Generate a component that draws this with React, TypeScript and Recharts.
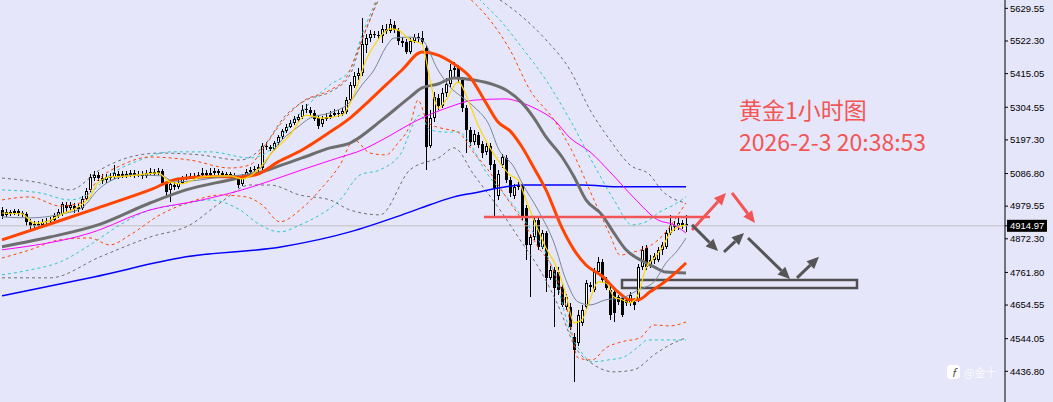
import {
  ComposedChart,
  Bar,
  Line,
  XAxis,
  YAxis,
  ReferenceLine,
  ReferenceArea,
} from "recharts";

// gold 1h candles (oldest first)
const openP = [
  4967, 4951, 4961, 4957, 4964, 4957, 4954, 4928, 4915, 4921,
  4918, 4928, 4931, 4934, 4947, 4954, 4984, 4974, 4980, 4970,
  4974, 5003, 5033, 5072, 5082, 5072, 5066, 5076, 5076, 5085,
  5079, 5085, 5082, 5089, 5082, 5085, 5079, 5089, 5092, 5089,
  5095, 5056, 5033, 5049, 5043, 5056, 5069, 5076, 5079, 5076,
  5082, 5089, 5082, 5089, 5095, 5089, 5082, 5085, 5079, 5076,
  5053, 5079, 5092, 5099, 5102, 5105, 5177, 5174, 5168, 5187,
  5207, 5227, 5240, 5253, 5263, 5273, 5296, 5296, 5286, 5269,
  5250, 5266, 5273, 5279, 5286, 5282, 5289, 5328, 5374, 5407,
  5417, 5509, 5532, 5545, 5542, 5539, 5562, 5555, 5575, 5558,
  5522, 5519, 5486, 5522, 5535, 5532, 5499, 5177, 5269, 5335,
  5309, 5352, 5381, 5427, 5434, 5394, 5302, 5230, 5191, 5214,
  5184, 5158, 5177, 5118, 5013, 5115, 5138, 5066, 5013, 5043,
  5049, 4974, 4852, 4878, 4934, 4846, 4891, 4744, 4770, 4763,
  4714, 4649, 4649, 4550, 4530, 4596, 4649, 4714, 4704, 4763,
  4796, 4737, 4704, 4698, 4681, 4678, 4672, 4662, 4665, 4672,
  4780, 4842, 4786, 4803, 4803, 4836, 4846, 4891, 4918, 4915,
  4924, 4921,
];
const highP = [
  4977, 4970, 4967, 4970, 4970, 4964, 4961, 4938, 4931, 4931,
  4938, 4941, 4944, 4957, 4970, 4993, 4993, 4993, 4990, 4987,
  5013, 5039, 5085, 5095, 5092, 5085, 5085, 5089, 5115, 5095,
  5095, 5095, 5099, 5099, 5095, 5095, 5099, 5105, 5102, 5105,
  5102, 5062, 5059, 5059, 5066, 5079, 5085, 5089, 5089, 5092,
  5105, 5099, 5105, 5105, 5102, 5095, 5092, 5092, 5089, 5082,
  5085, 5102, 5108, 5112, 5118, 5187, 5191, 5181, 5194, 5214,
  5233, 5250, 5263, 5276, 5282, 5312, 5315, 5306, 5296, 5279,
  5276, 5286, 5292, 5299, 5296, 5302, 5338, 5388, 5420, 5434,
  5598, 5545, 5558, 5555, 5555, 5575, 5578, 5595, 5588, 5565,
  5535, 5529, 5532, 5545, 5549, 5555, 5506, 5296, 5355, 5348,
  5368, 5401, 5447, 5453, 5443, 5404, 5312, 5240, 5230, 5223,
  5194, 5187, 5187, 5131, 5099, 5151, 5148, 5076, 5053, 5059,
  5056, 4984, 4888, 4944, 4941, 4901, 4898, 4783, 4780, 4780,
  4724, 4691, 4662, 4563, 4639, 4655, 4737, 4731, 4777, 4813,
  4806, 4747, 4721, 4711, 4688, 4688, 4681, 4698, 4678, 4790,
  4849, 4852, 4819, 4826, 4846, 4862, 4901, 4951, 4931, 4941,
  4934, 4951,
];
const lowP = [
  4938, 4944, 4947, 4951, 4947, 4944, 4915, 4898, 4901, 4905,
  4911, 4918, 4921, 4928, 4941, 4947, 4961, 4964, 4957, 4961,
  4967, 4997, 5026, 5062, 5062, 5053, 5056, 5062, 5069, 5069,
  5072, 5072, 5076, 5072, 5076, 5069, 5072, 5082, 5079, 5082,
  5049, 5013, 4993, 5033, 5036, 5053, 5066, 5069, 5069, 5069,
  5076, 5076, 5076, 5082, 5079, 5072, 5072, 5072, 5066, 5039,
  5046, 5072, 5082, 5089, 5092, 5099, 5164, 5161, 5161, 5181,
  5200, 5220, 5237, 5246, 5256, 5266, 5286, 5276, 5260, 5233,
  5240, 5260, 5266, 5273, 5273, 5276, 5282, 5322, 5368, 5394,
  5407, 5483, 5519, 5532, 5529, 5516, 5545, 5549, 5549, 5509,
  5503, 5480, 5480, 5516, 5519, 5509, 5099, 5171, 5256, 5296,
  5302, 5338, 5368, 5404, 5384, 5289, 5154, 5177, 5181, 5171,
  5138, 5148, 5099, 4944, 5000, 5105, 5056, 5010, 5003, 5033,
  4934, 4803, 4681, 4869, 4836, 4839, 4698, 4737, 4583, 4688,
  4649, 4639, 4573, 4402, 4520, 4586, 4642, 4698, 4698, 4754,
  4727, 4704, 4606, 4599, 4655, 4616, 4652, 4652, 4639, 4665,
  4770, 4770, 4777, 4790, 4796, 4819, 4839, 4885, 4898, 4901,
  4905, 4895,
];
const closeP = [
  4947, 4961, 4954, 4964, 4957, 4954, 4928, 4915, 4921, 4915,
  4928, 4931, 4934, 4947, 4961, 4987, 4974, 4984, 4970, 4977,
  5003, 5030, 5076, 5082, 5072, 5062, 5076, 5072, 5089, 5079,
  5085, 5079, 5089, 5082, 5085, 5079, 5089, 5092, 5085, 5095,
  5056, 5026, 5053, 5043, 5056, 5069, 5076, 5079, 5076, 5082,
  5089, 5082, 5089, 5095, 5089, 5082, 5085, 5079, 5076, 5049,
  5079, 5092, 5099, 5102, 5108, 5177, 5174, 5168, 5187, 5207,
  5227, 5240, 5253, 5266, 5273, 5296, 5299, 5286, 5266, 5243,
  5266, 5273, 5279, 5286, 5282, 5292, 5328, 5378, 5407, 5417,
  5512, 5532, 5545, 5542, 5539, 5562, 5555, 5578, 5558, 5522,
  5516, 5486, 5522, 5535, 5532, 5519, 5174, 5269, 5338, 5309,
  5352, 5381, 5427, 5434, 5397, 5302, 5230, 5191, 5217, 5181,
  5154, 5177, 5115, 5039, 5085, 5141, 5066, 5023, 5043, 5049,
  4944, 4852, 4878, 4934, 4846, 4891, 4744, 4770, 4711, 4704,
  4655, 4681, 4583, 4507, 4622, 4639, 4727, 4721, 4763, 4796,
  4737, 4711, 4622, 4629, 4665, 4622, 4662, 4688, 4655, 4780,
  4836, 4780, 4803, 4816, 4836, 4852, 4891, 4918, 4911, 4924,
  4915, 4914.97,
];

// moving averages: [bar index, price]
const maYellow = [
  [0, 4957], [5, 4954], [8, 4924], [11, 4928], [15, 4954], [19, 4977], [22, 5010],
  [24, 5056], [27, 5076], [32, 5079], [39, 5089], [42, 5059], [45, 5053], [50, 5076],
  [57, 5079], [60, 5069], [64, 5099], [67, 5148], [72, 5214], [76, 5279], [80, 5269],
  [85, 5279], [88, 5345], [91, 5460], [94, 5526], [97, 5562], [99, 5558], [102, 5526],
  [105, 5512], [107, 5394], [109, 5302], [111, 5328], [114, 5388], [117, 5312],
  [119, 5246], [122, 5171], [124, 5131], [127, 5082], [129, 5066], [131, 5000],
  [133, 4934], [136, 4842], [139, 4770], [141, 4688], [143, 4596], [145, 4606],
  [147, 4672], [149, 4731], [151, 4727], [153, 4681], [155, 4672], [157, 4662],
  [159, 4688], [161, 4777], [163, 4809], [165, 4842], [167, 4891], [169, 4911], [171, 4918],
];
const maSlate = [
  [0, 4944], [7, 4941], [15, 4954], [20, 4974], [24, 5033], [27, 5062], [33, 5082],
  [40, 5079], [43, 5059], [47, 5062], [55, 5076], [61, 5085], [65, 5108], [67, 5148],
  [70, 5197], [74, 5240], [77, 5269], [82, 5286], [87, 5322], [90, 5378], [93, 5427],
  [96, 5503], [98, 5532], [102, 5535], [105, 5526], [109, 5427], [112, 5371],
  [115, 5338], [118, 5306], [122, 5240], [124, 5171], [128, 5108], [130, 5056],
  [134, 4967], [138, 4859], [141, 4737], [144, 4665], [147, 4655], [151, 4672],
  [155, 4678], [159, 4704], [163, 4731], [166, 4793], [169, 4836], [171, 4875],
];
const maOrange = [
  [0, 4869], [12, 4921], [24, 4974], [37, 5033], [44, 5069], [52, 5076], [60, 5076],
  [64, 5085], [69, 5125], [75, 5164], [82, 5223], [87, 5269], [92, 5328], [96, 5378],
  [100, 5427], [105, 5486], [109, 5476], [113, 5447], [117, 5404], [121, 5319],
  [124, 5256], [127, 5227], [130, 5174], [133, 5105], [136, 5033], [140, 4908],
  [143, 4836], [146, 4786], [150, 4750], [154, 4698], [157, 4672], [159, 4672],
  [162, 4698], [166, 4734], [171, 4793],
];
const maGray = [
  [0, 4846], [12, 4878], [24, 4918], [37, 4990], [46, 5033], [58, 5069], [65, 5092],
  [70, 5115], [75, 5138], [82, 5171], [87, 5187], [95, 5263], [102, 5338], [105, 5368],
  [109, 5381], [113, 5401], [118, 5394], [123, 5378], [126, 5361], [130, 5319],
  [133, 5269], [136, 5207], [140, 5141], [143, 5076], [146, 5000], [150, 4951],
  [153, 4891], [156, 4836], [160, 4800], [163, 4780], [166, 4763], [171, 4760],
];
const maMagenta = [
  [0, 4836], [22, 4891], [37, 4967], [50, 5000], [60, 5033], [70, 5076], [75, 5099],
  [84, 5138], [90, 5164], [95, 5197], [104, 5263], [112, 5306], [118, 5328],
  [126, 5332], [130, 5319], [134, 5296], [138, 5263], [142, 5204], [147, 5158],
  [152, 5092], [158, 5007], [164, 4934], [168, 4918], [171, 4891],
];
const maBlue = [
  [0, 4685], [23, 4747], [46, 4813], [70, 4846], [87, 4895], [100, 4951], [107, 4984],
  [113, 5010], [118, 5023], [126, 5043], [130, 5049], [145, 5049], [155, 5043], [171, 5043],
];

// envelope / band lines (dashed)
const bandOrangeUp = [
  [0, 5000], [7, 5010], [14.5, 4980], [19.5, 4990], [24, 5066], [30, 5115], [37, 5141],
  [47, 5131], [57, 5105], [62, 5115], [65, 5164], [70, 5256], [75, 5322], [82, 5361],
  [86, 5401], [89, 5493], [92, 5591], [95, 5690], [102, 5739], [109.5, 5739], [116, 5673],
  [122, 5591], [127, 5493], [132, 5361], [138, 5263], [143, 5148], [148, 5000],
  [152, 4885], [154.5, 4819], [158, 4829], [162, 4849], [166, 4895], [169, 4951], [171, 4990],
];
const bandOrangeLo = [
  [0, 4809], [7, 4836], [14.5, 4869], [22, 4875], [27, 4852], [32, 4885], [39.5, 4951],
  [47, 4993], [54.5, 5016], [61, 5010], [65, 4984], [69.5, 4928], [74.5, 4967],
  [79.5, 5033], [84.5, 5115], [88, 5197], [92, 5154], [96, 5148], [99, 5187],
  [102, 5246], [104, 5328], [106.5, 5253], [109.5, 5237], [114, 5223], [118, 5154],
  [121.5, 5099], [126, 5010], [130, 4934], [134, 4846], [137.5, 4780], [141.5, 4629],
  [144, 4481], [147.5, 4474], [151, 4514], [155, 4534], [159.5, 4547], [163, 4589],
  [167, 4586], [171, 4599],
];
const bandCyanUp = [
  [0, 5033], [9.5, 5023], [17, 5000], [22, 5023], [27, 5082], [34.5, 5131], [42, 5158],
  [52, 5158], [62, 5138], [67, 5164], [72, 5246], [77, 5319], [82, 5378], [87, 5427],
  [90, 5542], [92.5, 5624], [96, 5723], [104.5, 5756], [114.5, 5723], [119.5, 5657],
  [124.5, 5591], [129.5, 5509], [136, 5394], [142, 5263], [148, 5115], [153, 5000],
  [157.5, 4918], [161, 4928], [164.5, 4961], [168, 4984], [171, 5010],
];
const bandCyanLo = [
  [0, 4754], [7, 4770], [14.5, 4796], [22, 4852], [29.5, 4918], [37, 4967], [44.5, 4984],
  [52, 5000], [59.5, 4967], [64.5, 4918], [69.5, 4895], [74.5, 4918], [79.5, 4951],
  [84.5, 5000], [89.5, 5082], [94.5, 5099], [99.5, 5148], [104.5, 5279], [107, 5230],
  [111, 5223], [114, 5223], [121.5, 5082], [130, 4944], [138, 4760], [142.5, 4550],
  [145, 4497], [147.5, 4468], [151.5, 4474], [155.5, 4484], [159, 4517], [161.5, 4540],
  [171, 4540],
];
const bandGrayUp = [
  [0, 5072], [9.5, 5056], [17, 5033], [24.5, 5099], [32, 5141], [39.5, 5154], [49.5, 5148],
  [59.5, 5131], [65, 5171], [71, 5279], [76, 5328], [82, 5355], [87, 5411], [90, 5526],
  [93, 5624], [97, 5723], [109.5, 5788], [119.5, 5690], [124.5, 5657], [129.5, 5608],
  [136, 5526], [142, 5427], [147, 5296], [152, 5197], [157, 5115], [162, 5082],
  [165, 5030], [168, 5003], [171, 4990],
];
const bandGrayLo = [
  [0, 4744], [12, 4744], [24.5, 4813], [37, 4878], [47, 4918], [54.5, 4990], [62, 5049],
  [67, 5049], [74.5, 5016], [82, 5000], [87, 4967], [94.5, 4951], [102, 5099],
  [109.5, 5141], [113, 5171], [118, 5082], [124.5, 4967], [129.5, 4869], [134.5, 4770],
  [139.5, 4639], [143, 4524], [148, 4458], [153, 4435], [158, 4442], [163, 4491],
  [167, 4524], [171, 4547],
];

// drawn annotations
const resistance = 4944;
const supportZone = { x1: 155, x2: 213.75, top: 4737, bottom: 4711 };
const redArrows = [
  [172.5, 4901, 181, 5023],
  [182.5, 5023, 188.25, 4924],
];
const grayArrows = [
  [172.5, 4918, 179, 4832],
  [180.5, 4829, 185.5, 4891],
  [186.5, 4875, 197, 4740],
  [198.75, 4744, 204.25, 4813],
];

const lastPrice = 4914.97;
const priceTicks = [
  5629.55, 5522.3, 5415.05, 5304.55, 5197.3, 5086.8, 4979.55, 4872.3, 4761.8,
  4654.55, 4544.05, 4436.8,
];

const candles = openP.map((o, i) => ({
  i,
  o,
  h: highP[i],
  l: lowP[i],
  c: closeP[i],
  range: [lowP[i], highP[i]],
}));

const pts = (arr: number[][]) => arr.map(([i, v]) => ({ i, v }));

const Candle = (props: any) => {
  const { x, y, width, height, payload } = props;
  if (x == null || y == null) return null;
  const top = Math.min(y, y + height);
  const hh = Math.abs(height);
  const { o, h, l, c } = payload;
  const k = h === l ? 0 : hh / (h - l);
  const cx = Math.round(x + width / 2);
  const bTop = top + (h - Math.max(o, c)) * k;
  const bBot = top + (h - Math.min(o, c)) * k;
  const bh = Math.max(bBot - bTop, 1);
  const bull = c >= o;
  return (
    <g shapeRendering="crispEdges">
      <rect x={cx} y={top} width={1} height={Math.max(hh, 1)} fill="#000" />
      <rect x={cx - 1} y={bTop} width={3} height={bh} fill="#000" />
      {bull && bh > 2 && (
        <rect x={cx} y={bTop + 1} width={1} height={bh - 2} fill="#fff" />
      )}
    </g>
  );
};

const PriceTick = (props: any) => {
  const { x, y, payload } = props;
  const v = payload.value;
  if (v === lastPrice) {
    return (
      <g>
        <rect x={x - 3} y={y - 6} width={40} height={12} fill="#000" />
        <text x={x} y={y} dy="0.35em" fill="#fff" fontSize={9.5} fontFamily="Liberation Sans, Arial">
          {v.toFixed(2)}
        </text>
      </g>
    );
  }
  return (
    <text x={x} y={y} dy="0.35em" fill="#000" fontSize={9.5} fontFamily="Liberation Sans, Arial">
      {v.toFixed(2)}
    </text>
  );
};

const arrowShape = (color: string) => (p: any) => {
  const { x1, y1, x2, y2 } = p;
  const a = Math.atan2(y2 - y1, x2 - x1);
  const len = 12;
  const half = 5.5;
  const bx = x2 - len * Math.cos(a);
  const by = y2 - len * Math.sin(a);
  const px = -Math.sin(a) * half;
  const py = Math.cos(a) * half;
  return (
    <g>
      <line x1={x1} y1={y1} x2={bx} y2={by} stroke={color} strokeWidth={3} />
      <polygon
        points={`${x2},${y2} ${bx + px},${by + py} ${bx - px},${by - py}`}
        fill={color}
      />
    </g>
  );
};

const solid = [
  { d: maBlue, color: "#0000FF", w: 1.5 },
  { d: maMagenta, color: "#FF00FF", w: 1 },
  { d: maGray, color: "#6E6E6E", w: 3 },
  { d: maOrange, color: "#FF4500", w: 3 },
  { d: maSlate, color: "#778899", w: 1 },
  { d: maYellow, color: "#FFD700", w: 1.2 },
];
const dashed = [
  { d: bandGrayUp, color: "#6E6E6E" },
  { d: bandGrayLo, color: "#6E6E6E" },
  { d: bandCyanUp, color: "#2BCACA" },
  { d: bandCyanLo, color: "#2BCACA" },
  { d: bandOrangeUp, color: "#FF4500" },
  { d: bandOrangeLo, color: "#FF4500" },
];

export default function App() {
  return (
    <div
      style={{
        position: "relative",
        width: 1053,
        height: 402,
        background: "#E6E6FA",
        overflow: "hidden",
      }}
    >
      <style>{`body{margin:0}`}</style>
      <ComposedChart
        width={1053}
        height={402}
        data={candles}
        margin={{ top: 0, right: 0, left: 0, bottom: 0 }}
      >
        <XAxis
          dataKey="i"
          type="number"
          domain={[-0.5, 250.75]}
          allowDataOverflow
          hide
        />
        <YAxis
          orientation="right"
          width={48}
          domain={[4336, 5657]}
          allowDataOverflow
          ticks={[...priceTicks, lastPrice]}
          interval={0}
          tick={<PriceTick />}
          tickSize={3}
          tickMargin={2}
          axisLine={{ stroke: "#000" }}
          tickLine={{ stroke: "#000" }}
        />
        <ReferenceLine y={lastPrice} stroke="#C0C0C0" strokeWidth={1} />
        <Bar
          dataKey="range"
          barSize={3}
          shape={<Candle />}
          isAnimationActive={false}
        />
        {dashed.map((s, k) => (
          <Line
            key={"b" + k}
            data={pts(s.d)}
            dataKey="v"
            type="monotone"
            stroke={s.color}
            strokeWidth={1}
            strokeDasharray="3 3"
            dot={false}
            activeDot={false}
            isAnimationActive={false}
          />
        ))}
        {solid.map((s, k) => (
          <Line
            key={"m" + k}
            data={pts(s.d)}
            dataKey="v"
            type="monotone"
            stroke={s.color}
            strokeWidth={s.w}
            dot={false}
            activeDot={false}
            isAnimationActive={false}
          />
        ))}
        <ReferenceLine
          segment={[
            { x: 120.5, y: resistance },
            { x: 177, y: resistance },
          ]}
          stroke="#F25555"
          strokeWidth={2.5}
        />
        <ReferenceArea
          x1={supportZone.x1}
          x2={supportZone.x2}
          y1={supportZone.bottom}
          y2={supportZone.top}
          fill="none"
          fillOpacity={0}
          stroke="#505050"
          strokeWidth={2.5}
        />
        {redArrows.map((a, k) => (
          <ReferenceLine
            key={"ra" + k}
            segment={[
              { x: a[0], y: a[1] },
              { x: a[2], y: a[3] },
            ]}
            shape={arrowShape("#F25555")}
          />
        ))}
        {grayArrows.map((a, k) => (
          <ReferenceLine
            key={"ga" + k}
            segment={[
              { x: a[0], y: a[1] },
              { x: a[2], y: a[3] },
            ]}
            shape={arrowShape("#555555")}
          />
        ))}
      </ComposedChart>
      <div
        style={{
          position: "absolute",
          left: 739,
          top: 93,
          color: "#F25555",
          fontFamily: "Noto Sans CJK SC, sans-serif",
          fontSize: 23,
          lineHeight: "32px",
          whiteSpace: "nowrap",
        }}
      >
        <div>黄金1小时图</div>
        <div>2026-2-3 20:38:53</div>
      </div>
      <div
        style={{
          position: "absolute",
          left: 947,
          top: 364,
          display: "flex",
          alignItems: "center",
          gap: 4,
          color: "rgba(255,255,255,0.85)",
          fontFamily: "Noto Sans CJK SC, sans-serif",
          fontSize: 11,
        }}
      >
        <span
          style={{
            width: 13,
            height: 14,
            borderRadius: 4,
            background: "#fff",
            color: "#555",
            fontSize: 11,
            lineHeight: "14px",
            textAlign: "center",
            fontStyle: "italic",
          }}
        >
          f
        </span>
        <span>@金十</span>
      </div>
    </div>
  );
}
